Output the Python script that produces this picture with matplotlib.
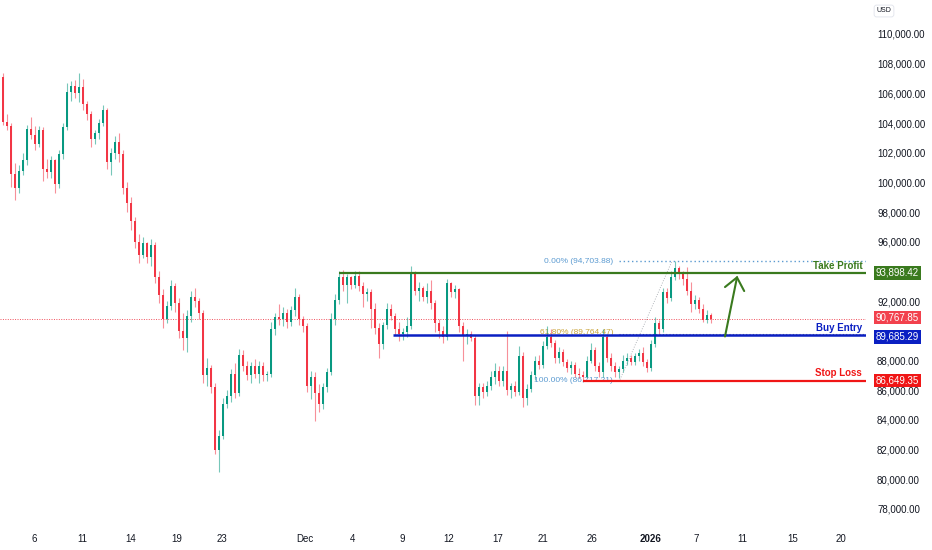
import numpy as np
import matplotlib
matplotlib.use('Agg')
import matplotlib.pyplot as plt
from matplotlib.transforms import blended_transform_factory

# BTC/USD candles (prices in thousands of USD)
opens = [107.1, 104.1, 103.8, 100.6, 99.6, 100.8, 101.5, 103.6, 103.2, 102.6,
         103.5, 100.9, 100.7, 101.5, 99.9, 101.9, 103.7, 106.1, 106.5, 106.0,
         106.4, 105.3, 104.6, 102.9, 103.3, 104.0, 104.9, 101.4, 102.0, 102.7,
         101.9, 99.6, 98.6, 97.4, 96.0, 95.1, 95.9, 95.0, 95.8, 93.6,
         92.4, 90.8, 91.7, 93.0, 91.9, 90.0, 89.5, 91.0, 92.3, 92.0,
         91.2, 87.0, 87.5, 86.2, 82.0, 82.9, 85.1, 85.6, 87.1, 85.8,
         88.4, 87.6, 87.0, 87.6, 87.1, 87.6, 87.0, 87.1, 90.1, 90.9,
         90.8, 91.2, 90.6, 91.4, 92.3, 90.8, 90.3, 86.3, 86.9, 85.8,
         85.1, 86.2, 87.2, 90.8, 92.1, 93.6, 93.1, 93.6, 93.1, 93.7,
         93.0, 92.5, 92.6, 91.5, 90.2, 89.1, 90.4, 91.5, 91.0, 90.1,
         89.8, 89.9, 90.3, 93.8, 92.7, 92.9, 92.3, 92.7, 91.9, 90.5,
         90.0, 89.6, 93.2, 92.6, 92.8, 90.3, 89.7, 89.8, 89.5, 85.6,
         86.2, 85.9, 86.3, 86.9, 87.3, 86.6, 87.3, 86.0, 86.3, 85.9,
         88.3, 85.5, 86.1, 87.0, 88.0, 87.7, 89.0, 89.6, 89.2, 88.2,
         88.6, 87.9, 87.5, 87.7, 87.1, 87.0, 86.9, 88.0, 88.7, 87.6,
         87.2, 89.6, 88.2, 87.6, 87.2, 87.4, 88.0, 88.2, 87.9, 88.3,
         88.5, 87.9, 87.5, 89.1, 90.5, 90.1, 92.6, 92.2, 93.6, 94.2,
         93.8, 93.5, 92.7, 91.8, 92.1, 91.5, 90.7, 91.1]
highs = [107.4, 104.6, 104.0, 101.3, 101.2, 102.0, 103.9, 104.4, 103.8, 103.8,
         103.7, 101.6, 101.8, 101.6, 102.2, 104.0, 106.7, 106.8, 106.9, 107.4,
         107.0, 105.5, 104.8, 103.5, 104.3, 105.2, 105.0, 102.3, 103.1, 103.3,
         102.2, 100.0, 99.0, 97.7, 96.5, 96.3, 96.0, 96.2, 96.0, 94.0,
         92.8, 92.0, 93.4, 93.2, 92.2, 91.2, 91.4, 92.7, 92.9, 92.2,
         91.4, 88.2, 87.7, 86.5, 83.3, 85.5, 86.0, 87.4, 87.8, 88.8,
         88.7, 88.0, 87.9, 88.1, 88.0, 87.9, 87.3, 90.6, 91.2, 91.8,
         91.6, 91.5, 91.7, 92.9, 92.5, 91.0, 90.5, 87.3, 87.2, 86.4,
         86.5, 87.5, 91.2, 92.5, 94.0, 94.1, 93.8, 93.7, 94.0, 94.0,
         93.3, 92.9, 92.8, 91.9, 90.5, 90.6, 91.9, 91.8, 91.2, 90.6,
         90.2, 90.9, 94.4, 94.0, 93.3, 93.0, 93.2, 93.4, 92.1, 90.8,
         90.3, 93.5, 93.3, 93.1, 92.9, 90.6, 90.1, 90.0, 89.7, 86.5,
         86.5, 86.6, 87.3, 87.8, 87.6, 87.6, 90.0, 86.5, 86.6, 89.0,
         88.6, 86.4, 87.3, 88.3, 88.4, 89.3, 90.3, 90.1, 89.4, 88.9,
         88.8, 88.1, 88.0, 87.9, 87.5, 87.3, 88.3, 89.2, 88.9, 87.9,
         90.1, 89.8, 88.5, 87.9, 87.6, 88.4, 88.5, 88.4, 88.5, 88.8,
         88.9, 88.1, 89.4, 90.9, 90.7, 92.9, 92.9, 94.0, 94.7, 94.4,
         94.0, 94.3, 93.3, 92.4, 92.3, 91.8, 91.4, 91.2]
lows = [103.9, 103.5, 99.7, 98.8, 99.3, 100.5, 101.2, 102.9, 102.2, 102.4,
        100.1, 100.3, 100.3, 99.3, 99.6, 101.6, 103.5, 105.5, 105.7, 105.4,
        104.9, 104.2, 102.4, 102.6, 102.9, 103.8, 100.9, 100.5, 101.6, 101.4,
        99.2, 98.0, 96.8, 95.6, 94.6, 94.9, 94.6, 94.4, 93.2, 91.9,
        90.2, 90.5, 91.4, 91.3, 89.5, 88.7, 88.6, 90.6, 91.6, 90.8,
        86.5, 86.3, 85.8, 81.7, 80.5, 82.7, 84.8, 85.2, 85.5, 85.6,
        87.3, 86.7, 86.5, 86.8, 86.5, 86.6, 86.6, 86.9, 89.7, 90.4,
        90.3, 90.2, 90.3, 91.0, 90.4, 89.9, 85.9, 85.4, 83.9, 84.5,
        84.7, 85.9, 87.0, 90.4, 91.8, 92.7, 91.9, 92.8, 92.9, 92.7,
        91.6, 92.0, 90.2, 89.8, 88.2, 88.8, 90.1, 90.7, 89.7, 89.3,
        89.4, 89.6, 90.1, 92.4, 92.0, 92.0, 91.9, 91.5, 89.9, 89.5,
        89.2, 89.4, 92.3, 92.2, 89.9, 88.0, 89.1, 89.3, 85.0, 85.0,
        85.5, 85.6, 86.0, 86.4, 86.3, 86.3, 85.7, 85.5, 85.6, 85.7,
        84.9, 85.0, 85.9, 86.7, 87.4, 87.5, 88.8, 88.9, 87.8, 87.8,
        87.6, 87.2, 87.1, 86.9, 86.8, 86.72, 86.8, 87.8, 87.3, 86.9,
        86.9, 87.9, 87.3, 86.9, 86.8, 87.2, 87.7, 87.7, 87.7, 88.0,
        87.6, 87.2, 87.3, 88.9, 89.8, 89.9, 91.9, 92.0, 93.4, 93.5,
        93.1, 92.4, 91.3, 91.5, 91.2, 90.6, 90.5, 90.5]
closes = [104.1, 103.8, 100.6, 99.6, 100.8, 101.5, 103.6, 103.2, 102.6, 103.5,
          100.9, 100.7, 101.5, 99.9, 101.9, 103.7, 106.1, 106.5, 106.0, 106.4,
          105.3, 104.6, 102.9, 103.3, 104.0, 104.9, 101.4, 102.0, 102.7, 101.9,
          99.6, 98.6, 97.4, 96.0, 95.1, 95.9, 95.0, 95.8, 93.6, 92.4,
          90.8, 91.7, 93.0, 91.9, 90.0, 89.5, 91.0, 92.3, 92.0, 91.2,
          87.0, 87.5, 86.2, 82.0, 82.9, 85.1, 85.6, 87.1, 85.8, 88.4,
          87.6, 87.0, 87.6, 87.1, 87.6, 87.0, 87.1, 90.1, 90.9, 90.8,
          91.2, 90.6, 91.4, 92.3, 90.8, 90.3, 86.3, 86.9, 85.8, 85.1,
          86.2, 87.2, 90.8, 92.1, 93.6, 93.1, 93.6, 93.1, 93.7, 93.0,
          92.5, 92.6, 91.5, 90.2, 89.1, 90.4, 91.5, 91.0, 90.1, 89.8,
          89.9, 90.3, 93.8, 92.7, 92.9, 92.3, 92.7, 91.9, 90.5, 90.0,
          89.6, 93.2, 92.6, 92.8, 90.3, 89.7, 89.8, 89.5, 85.6, 86.2,
          85.9, 86.3, 86.9, 87.3, 86.6, 87.3, 86.0, 86.3, 85.9, 88.3,
          85.5, 86.1, 87.0, 88.0, 87.7, 89.0, 89.6, 89.2, 88.2, 88.6,
          87.9, 87.5, 87.7, 87.1, 87.0, 86.9, 88.0, 88.7, 87.6, 87.2,
          89.6, 88.2, 87.6, 87.2, 87.4, 88.0, 88.2, 87.9, 88.3, 88.5,
          87.9, 87.5, 89.1, 90.5, 90.1, 92.6, 92.2, 93.6, 94.2, 93.8,
          93.5, 92.7, 91.8, 92.1, 91.5, 90.7, 91.1, 90.76785]

# x axis labels (bar index where each label sits)
date_labels = ['6', '11', '14', '19', '23', 'Dec', '4', '9', '12', '17',
               '21', '26', '2026', '7', '11', '15', '20']
date_ticks = [7.75, 19.75, 32, 43.5, 54.75, 75.5, 87.5, 99.75, 111.5, 123.75,
              135, 147.25, 162, 173.25, 184.75, 197.5, 209.5]
# 94k and 90k sit under the price badges, so they are not shown
price_ticks = [78, 80, 82, 84, 86, 88, 92, 96, 98, 100, 102, 104, 106, 108, 110]

# trade levels (USD)
take_profit = 93898.42
buy_entry = 89685.29
stop_loss = 86649.35
fib_high = 94703.88
fib_618 = 89764.47
fib_low = 86717.21

UP = '#089981'
DOWN = '#f23645'
GREEN = '#3a7a1e'
BLUE = '#0a1fc2'
RED = '#f01616'
FIB_BLUE = '#5c9bd1'
FIB_GOLD = '#c9a43a'
TXT = '#131722'

plt.rcParams['font.family'] = ['Liberation Sans', 'DejaVu Sans']

fig = plt.figure(figsize=(9.32, 5.5), dpi=100)
ax = fig.add_axes([0, 24 / 550, 866 / 932, 526 / 550])
ax.set_xlim(-0.75, 215.75)
ax.set_ylim(76.85, 112.29)

o = np.array(opens)
h = np.array(highs)
l = np.array(lows)
c = np.array(closes)
x = np.arange(len(c))
up = c >= o

# candles: lighter wicks, solid bodies
wick_cols = [(0.03, 0.6, 0.5, 0.55) if u else (0.95, 0.21, 0.27, 0.55) for u in up]
ax.vlines(x, l, h, colors=wick_cols, linewidth=0.8, zorder=3)
ax.bar(x, np.maximum(np.abs(c - o), 0.06), bottom=np.minimum(o, c), width=0.62,
       color=[UP if u else DOWN for u in up], linewidth=0, zorder=4)

# current price line
last = c[-1]
ax.axhline(last, color='#f0505c', lw=0.7, ls=(0, (1, 1.5)), zorder=2)

# fibonacci retracement
fib_start = 154
ax.hlines(fib_high / 1000, fib_start, 215.75, colors=FIB_BLUE, lw=1.0, linestyles=(0, (1, 2)), zorder=2)
ax.hlines(fib_618 / 1000, fib_start, 215.75, colors='#777777', lw=0.8, linestyles=(0, (1, 2)), zorder=2)
ax.plot([154.25, 167.25], [fib_low / 1000, fib_high / 1000], color='#9aa0a6', lw=0.6, ls=(0, (1, 2)), zorder=2)
ax.text(152.5, fib_high / 1000, f'0.00% ({fib_high:,.2f})', color=FIB_BLUE, fontsize=6,
        ha='right', va='center', zorder=2)
ax.text(152.5, fib_618 / 1000 + 0.1, f'61.80% ({fib_618:,.2f})', color=FIB_GOLD, fontsize=6,
        ha='right', va='center', zorder=2)
ax.text(152.5, fib_low / 1000 - 0.05, f'100.00% ({fib_low:,.2f})', color=FIB_BLUE, fontsize=6,
        ha='right', va='center', zorder=2)

# trade levels
ax.hlines(take_profit / 1000, 84, 215.75, colors=GREEN, lw=1.6, zorder=5)
ax.hlines(buy_entry / 1000, 97.5, 215.75, colors=BLUE, lw=1.8, zorder=5)
ax.hlines(stop_loss / 1000, 145, 215.75, colors=RED, lw=1.6, zorder=5)
ax.text(214.8, take_profit / 1000 + 0.12, 'Take Profit', color=GREEN, fontsize=7,
        fontweight='bold', ha='right', va='bottom', zorder=6)
ax.text(214.8, buy_entry / 1000 + 0.14, 'Buy Entry', color=BLUE, fontsize=7,
        fontweight='bold', ha='right', va='bottom', zorder=6)
ax.text(214.8, stop_loss / 1000 + 0.14, 'Stop Loss', color=RED, fontsize=7,
        fontweight='bold', ha='right', va='bottom', zorder=6)

# projected move arrow
ax.plot([180.5, 183.5], [89.62, 93.6], color=GREEN, lw=1.5, solid_capstyle='round', zorder=6)
ax.plot([180.5, 183.5, 185.3], [92.95, 93.6, 92.68], color=GREEN, lw=1.5,
        solid_capstyle='round', solid_joinstyle='miter', zorder=6)

# axes styling
for s in ax.spines.values():
    s.set_visible(False)
ax.yaxis.tick_right()
ax.set_yticks(price_ticks)
ax.set_yticklabels([f'{v * 1000:,.2f}' for v in price_ticks])
ax.set_xticks(date_ticks)
ax.set_xticklabels(date_labels)
ax.tick_params(axis='y', length=0, pad=8, labelsize=7, labelcolor=TXT)
ax.tick_params(axis='x', length=0, pad=6, labelsize=7, labelcolor=TXT)
for t in ax.get_xticklabels():
    if t.get_text() == '2026':
        t.set_fontweight('bold')

# price scale badges (the two close ones get pushed apart a little, like the app does)
trans = blended_transform_factory(ax.transAxes, ax.transData)
badges = [(take_profit, GREEN, 0.0), (last * 1000, '#f2414d', 0.12),
          (buy_entry, BLUE, -0.1), (stop_loss, RED, 0.0)]
for val, col, nudge in badges:
    ax.text(1.0115, val / 1000 + nudge, f'{val:,.2f}', transform=trans, color='white', fontsize=7,
            ha='left', va='center', clip_on=False, zorder=7,
            bbox=dict(boxstyle='square,pad=0.18', fc=col, ec='none'))

fig.text(884 / 932, 1 - 11 / 550, 'USD', fontsize=5, color=TXT, ha='center', va='center',
         bbox=dict(boxstyle='round,pad=0.35', fc='white', ec='#e0e3eb', lw=0.6))

fig.savefig('out.png', dpi=100, facecolor='white')
